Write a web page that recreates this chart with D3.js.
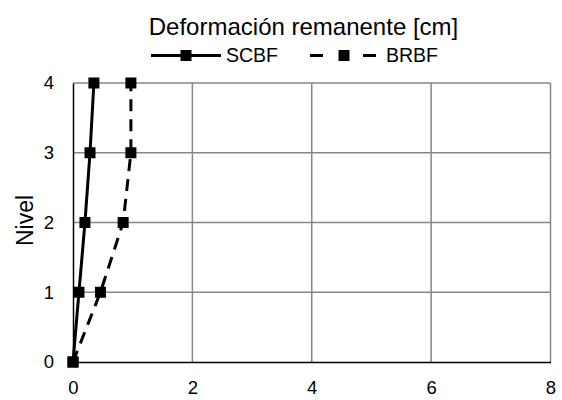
<!DOCTYPE html>
<html><head><meta charset="utf-8">
<script src="https://cdn.jsdelivr.net/npm/d3@7"></script>
<style>body{margin:0;background:#fff}svg{display:block;font-family:"Liberation Sans",Arial,sans-serif}</style>
</head><body><svg id="c" width="562" height="400"></svg>
<script>
const levels = [0, 1, 2, 3, 4];
const scbf = [0, 0.10, 0.20, 0.285, 0.35];
const brbf = [0, 0.46, 0.84, 0.97, 0.97];
const xTicks = [0, 2, 4, 6, 8];
const yTicks = [0, 1, 2, 3, 4];
const seriesNames = ["SCBF", "BRBF"];
const title = "Deformación remanente [cm]";
const yTitle = "Nivel";

const svg = d3.select("#c");
const x = d3.scaleLinear().domain([0, 8]).range([73, 550.5]);
const y = d3.scaleLinear().domain([0, 4]).range([362, 83]);

// gridlines
svg.append("g").selectAll("line").data(xTicks.slice(1)).join("line")
  .attr("x1", d => x(d)).attr("x2", d => x(d)).attr("y1", y(0)).attr("y2", y(4))
  .attr("stroke", "#868686").attr("stroke-width", 1.5);
svg.append("g").selectAll("line").data(yTicks.slice(1)).join("line")
  .attr("x1", x(0)).attr("x2", x(8)).attr("y1", d => y(d)).attr("y2", d => y(d))
  .attr("stroke", "#868686").attr("stroke-width", 1.5);

// axes
const xa = svg.append("g").attr("transform", `translate(0,${y(0)})`)
  .call(d3.axisBottom(x).tickValues(xTicks).tickFormat(d3.format("d")).tickSize(0).tickPadding(19));
const ya = svg.append("g").attr("transform", `translate(${x(0)},0)`)
  .call(d3.axisLeft(y).tickValues(yTicks).tickFormat(d3.format("d")).tickSize(0).tickPadding(19));
[xa, ya].forEach(a => {
  a.attr("font-size", 18.5).attr("font-family", "Liberation Sans, Arial, sans-serif");
  a.select(".domain").attr("stroke", "#000").attr("stroke-width", 1.5);
  a.selectAll("text").attr("fill", "#000");
});

svg.append("text").attr("x", 303.5).attr("y", 35).attr("text-anchor", "middle")
  .attr("font-size", 24).text(title);
svg.append("text").attr("transform", `translate(33,${(y(0)+y(4))/2 - 2}) rotate(-90)`)
  .attr("text-anchor", "middle").attr("font-size", 23).text(yTitle);

const line = d3.line().x(d => x(d[0])).y(d => y(d[1]));
const data = [
  { name: seriesNames[0], vals: scbf, dash: null },
  { name: seriesNames[1], vals: brbf, dash: "12,8" }
];
data.forEach(s => {
  const pts = s.vals.map((v, i) => [v, levels[i]]);
  svg.append("path").datum(pts).attr("d", line).attr("fill", "none")
    .attr("stroke", "#000").attr("stroke-width", 3).attr("stroke-dasharray", s.dash);
  svg.append("g").selectAll("rect").data(pts).join("rect")
    .attr("x", d => x(d[0]) - 5.5).attr("y", d => y(d[1]) - 5.5)
    .attr("width", 11).attr("height", 11).attr("fill", "#000");
});

// legend
const leg = [
  { x1: 151, x2: 221, mx: 186, tx: 226, dash: null },
  { x1: 310, x2: 377, mx: 344, tx: 386, dash: "13,40" }
];
leg.forEach((l, i) => {
  const ly = 55.5;
  svg.append("line").attr("x1", l.x1).attr("x2", l.x2).attr("y1", ly).attr("y2", ly)
    .attr("stroke", "#000").attr("stroke-width", 3).attr("stroke-dasharray", l.dash);
  svg.append("rect").attr("x", l.mx - 5.5).attr("y", ly - 5.5).attr("width", 11).attr("height", 11).attr("fill", "#000");
  svg.append("text").attr("x", l.tx).attr("y", 62).attr("font-size", 19.5).text(data[i].name);
});
</script></body></html>
